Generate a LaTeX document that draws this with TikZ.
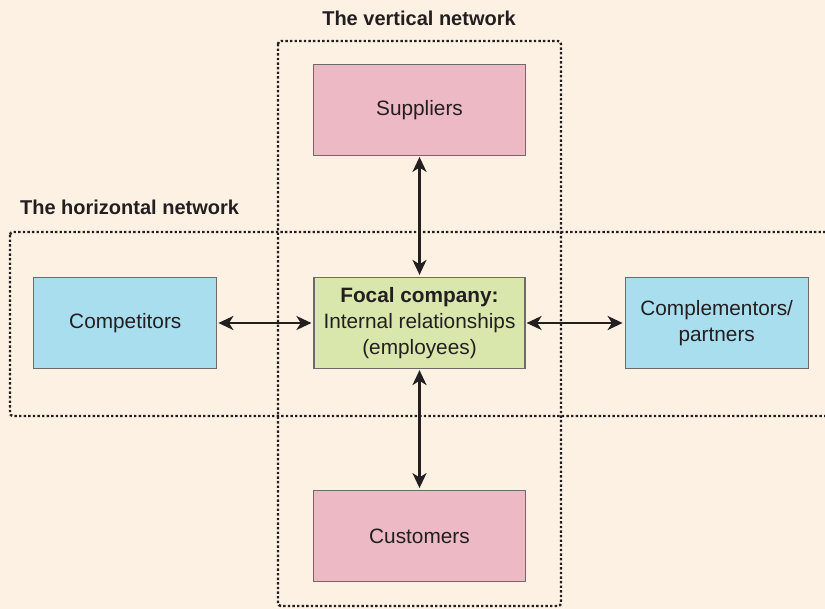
\documentclass[tikz,border=0pt]{standalone}
\usepackage{fontspec}
\setmainfont{Liberation Sans}
\usetikzlibrary{positioning, arrows.meta}
\definecolor{paper}{HTML}{FDF1E3}
\definecolor{rosefill}{HTML}{ECB9C4}
\definecolor{skyfill}{HTML}{A9DEEE}
\definecolor{limefill}{HTML}{D9E7AD}
\definecolor{edgegray}{HTML}{6E6A6A}
\definecolor{inkgray}{HTML}{231F20}
\tikzstyle{unit} = [
    rectangle,
    minimum width=106pt,
    minimum height=45.5pt,
    draw=edgegray,
    line width=0.6pt,
    text=inkgray,
    align=center,
    font=\fontsize{10.4}{13}\selectfont
]
\tikzstyle{vertical} = [unit, fill=rosefill]
\tikzstyle{horizontal} = [unit, fill=skyfill, minimum width=91.5pt]
\tikzstyle{focal} = [unit, fill=limefill, minimum width=105.5pt]
\tikzstyle{network} = [dash pattern=on 1.2pt off 1.1pt, line width=1.2pt, draw=inkgray, rounded corners=1.5pt]
\tikzstyle{heading} = [text=inkgray, font=\bfseries\fontsize{10}{12}\selectfont]
\tikzstyle{arrow} = [line width=1.2pt, draw=inkgray, {Stealth[length=7.5pt,width=7pt,inset=2.2pt]}-{Stealth[length=7.5pt,width=7pt,inset=2.2pt]}, shorten <=0.5pt, shorten >=1pt]

\begin{document}
\begin{tikzpicture}[x=0.5pt, y=-0.5pt]

\useasboundingbox [fill=paper] (0,0) rectangle (825,609);

\draw [network] (278,41) rectangle (561,606);
\draw [network] (10,232) rectangle (840,416);

\node (vlabel) [heading] at (419,18) {The vertical network};
\node (hlabel) [heading, anchor=west] at (13,207) {The horizontal network};

\node (focal) [focal] at (419.5,323)
{\textbf{Focal company:}\\Internal relationships\\(employees)};

\node (suppliers) [vertical, above=60.5pt of focal] {Suppliers};

\node (customers) [vertical, below=60.5pt of focal] {Customers};

\node (competitors) [horizontal, left=48pt of focal] {Competitors};

\node (complementors) [horizontal, right=49.5pt of focal]
{Complementors/\\partners};

\draw [arrow] (suppliers) -- (focal);
\draw [arrow] (focal) -- (customers);
\draw [arrow] (competitors) -- (focal);
\draw [arrow] (focal) -- (complementors);

\end{tikzpicture}
\end{document}
